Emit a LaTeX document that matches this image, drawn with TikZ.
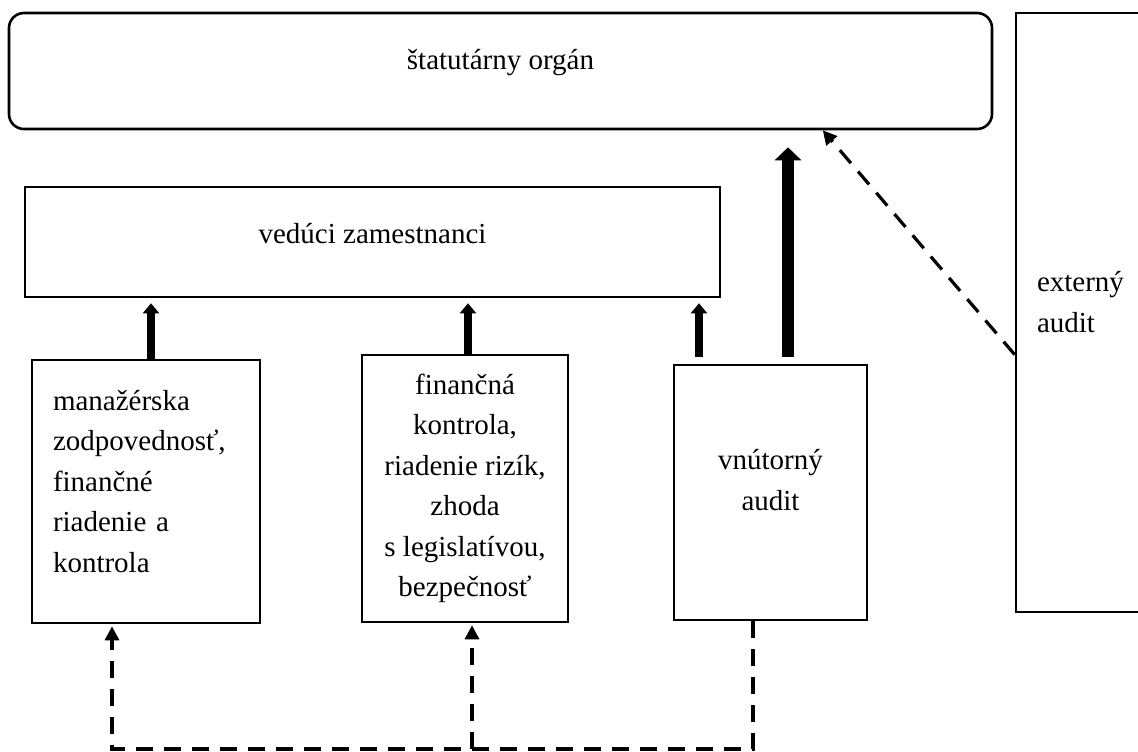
\documentclass[tikz,border=0pt]{standalone}
\usepackage{fontspec}
\setmainfont{Liberation Serif}[Ligatures=CommonOff]
\usetikzlibrary{arrows.meta,calc}

\begin{document}
\begin{tikzpicture}[x=0.5pt,y=-0.5pt,font=\fontsize{14.5pt}{20.25pt}\selectfont]
    \useasboundingbox (0,0) rectangle (1138,751);
    \begin{scope}[every node/.style={draw,line width=1.3pt,inner sep=0pt}]
      \node[rounded corners=7.5pt,minimum width=491.5pt,minimum height=58pt,text depth=12pt] (board) at (500.5,71) {štatutárny orgán};
      \node[minimum width=72pt,minimum height=299.5pt,text width=51pt,align=left,text depth=30.75pt] (ext) at (1088,312.5) {externý\\audit};
      \node[minimum width=347.5pt,minimum height=55pt,text depth=9pt] (lead) at (372.5,242) {vedúci zamestnanci};
      \node[minimum width=114pt,minimum height=131.5pt,text width=93pt,align=left,text depth=91.5pt] (mgmt) at (146,491.5) {manažérska\\zodpovednosť,\\finančné\\riadenie a\\kontrola};
      \node[minimum width=103pt,minimum height=133.5pt,align=center] (fin) at (465,488.5) {finančná\\kontrola,\\riadenie rizík,\\zhoda\\s legislatívou,\\bezpečnosť};
      \node[minimum width=96.5pt,minimum height=127.5pt,align=center,text depth=12.5pt] (intaudit) at (770.5,492.5) {vnútorný\\audit};
    \end{scope}
    \begin{scope}[every edge/.style={draw,line width=4pt,-{Triangle[length=5pt,width=8pt]},shorten >=2.5pt}]
      \path ([xshift=2.5pt]mgmt.north) edge ([xshift=2.5pt]mgmt.north |- lead.south);
      \path ([xshift=1.5pt]fin.north) edge ([xshift=1.5pt]fin.north |- lead.south);
      \path ([xshift=-35.75pt]intaudit.north) edge[shorten <=3.5pt] ([xshift=-35.75pt]intaudit.north |- lead.south);
      \path ([xshift=8.75pt]intaudit.north) edge[line width=6pt,-{Triangle[length=6.5pt,width=13pt]},shorten <=3.5pt,shorten >=8.5pt] ([xshift=8.75pt]intaudit.north |- board.south);
    \end{scope}
    \begin{scope}[dashline/.style={draw,line width=1.6pt,dash pattern=on 8.5pt off 5.5pt,-{Triangle[length=7pt,width=7pt]},shorten >=1pt}]
      \coordinate (bus) at (0,749);
      \draw[dashline] ([xshift=-8.75pt]intaudit.south) -- ([xshift=-8.75pt]intaudit.south |- bus) -- ([xshift=-17pt]mgmt.south |- bus) -- ([xshift=-17pt]mgmt.south);
      \draw[dashline] ([xshift=3.5pt]fin.south |- bus) -- ([xshift=3.5pt]fin.south);
      \draw[dashline,shorten >=0pt] ($(ext.north west)!0.57!(ext.south west)$) -- ($(board.south west)!0.827!(board.south east)$);
    \end{scope}
  \end{tikzpicture}
\end{document}
